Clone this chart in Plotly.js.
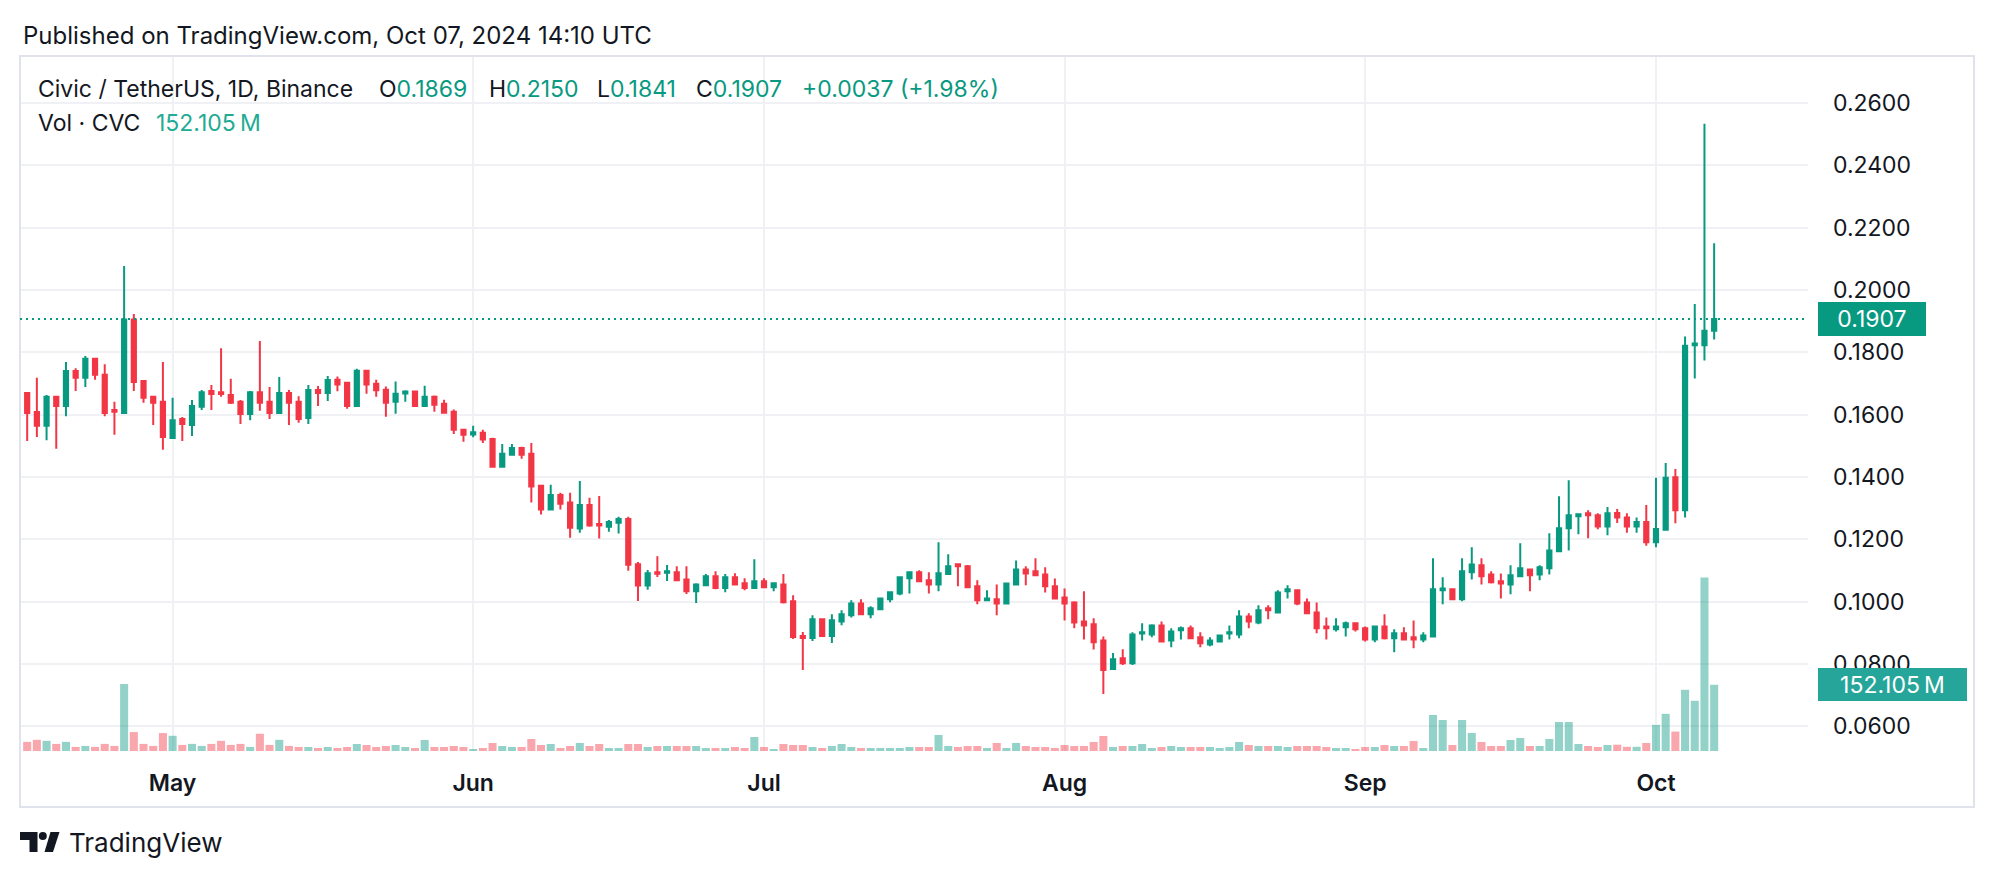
<!DOCTYPE html>
<html>
<head>
<meta charset="utf-8">
<script src="https://cdn.plot.ly/plotly-3.0.1.min.js"></script>
<style>
  html, body { margin: 0; padding: 0; background: #ffffff; }
  #chart { width: 1996px; height: 878px; }
</style>
</head>
<body>
<div id="chart"></div>
<script>
// CVC / USDT daily candles, 16 Apr 2024 - 7 Oct 2024
var firstDay = '2024-04-16';

var openP = [
  0.1669, 0.1608, 0.1564, 0.1657, 0.1628, 0.1740, 0.1718, 0.1779, 0.1728, 0.1615,
  0.1605, 0.1905, 0.1708, 0.1657, 0.1641, 0.1525, 0.1586, 0.1567, 0.1625, 0.1676,
  0.1672, 0.1663, 0.1641, 0.1602, 0.1672, 0.1641, 0.1605, 0.1669, 0.1641, 0.1589,
  0.1679, 0.1669, 0.1712, 0.1702, 0.1628, 0.1741, 0.1699, 0.1680, 0.1641, 0.1668,
  0.1674, 0.1628, 0.1657, 0.1635, 0.1609, 0.1551, 0.1536, 0.1542, 0.1522, 0.1433,
  0.1471, 0.1493, 0.1474, 0.1372, 0.1295, 0.1342, 0.1318, 0.1234, 0.1310, 0.1249,
  0.1240, 0.1253, 0.1265, 0.1120, 0.1051, 0.1094, 0.1092, 0.1094, 0.1071, 0.1033,
  0.1052, 0.1081, 0.1043, 0.1078, 0.1059, 0.1043, 0.1065, 0.1046, 0.1055, 0.1001,
  0.0889, 0.0883, 0.0943, 0.0889, 0.0936, 0.0956, 0.0994, 0.0959, 0.0975, 0.1007,
  0.1026, 0.1075, 0.1094, 0.1068, 0.1055, 0.1088, 0.1120, 0.1113, 0.1049, 0.1004,
  0.1007, 0.0994, 0.1055, 0.1103, 0.1097, 0.1087, 0.1049, 0.1013, 0.0997, 0.0936,
  0.0927, 0.0875, 0.0783, 0.0818, 0.0802, 0.0897, 0.0894, 0.0923, 0.0875, 0.0908,
  0.0914, 0.0885, 0.0862, 0.0872, 0.0897, 0.0894, 0.0952, 0.0933, 0.0978, 0.0965,
  0.1033, 0.1036, 0.0997, 0.0965, 0.0920, 0.0911, 0.0917, 0.0930, 0.0914, 0.0878,
  0.0920, 0.0882, 0.0898, 0.0885, 0.0878, 0.0888, 0.1036, 0.1039, 0.1007, 0.1094,
  0.1116, 0.1087, 0.1065, 0.1055, 0.1081, 0.1103, 0.1087, 0.1107, 0.1161, 0.1235,
  0.1274, 0.1283, 0.1277, 0.1241, 0.1284, 0.1270, 0.1241, 0.1255, 0.1190, 0.1230,
  0.1399, 0.1293, 0.1823, 0.1823, 0.1869
];
var highP = [
  0.1669, 0.1718, 0.1663, 0.1657, 0.1769, 0.1749, 0.1788, 0.1779, 0.1762, 0.1641,
  0.2077, 0.1923, 0.1708, 0.1657, 0.1769, 0.1654, 0.1592, 0.1647, 0.1679, 0.1695,
  0.1813, 0.1715, 0.1647, 0.1676, 0.1836, 0.1689, 0.1721, 0.1679, 0.1659, 0.1695,
  0.1692, 0.1724, 0.1722, 0.1702, 0.1747, 0.1741, 0.1712, 0.1690, 0.1706, 0.1678,
  0.1674, 0.1693, 0.1661, 0.1648, 0.1616, 0.1551, 0.1564, 0.1551, 0.1526, 0.1506,
  0.1506, 0.1497, 0.1509, 0.1375, 0.1375, 0.1349, 0.1349, 0.1387, 0.1333, 0.1339,
  0.1262, 0.1272, 0.1272, 0.1127, 0.1101, 0.1145, 0.1117, 0.1113, 0.1113, 0.1059,
  0.1088, 0.1097, 0.1088, 0.1091, 0.1075, 0.1136, 0.1075, 0.1059, 0.1088, 0.1020,
  0.0902, 0.0956, 0.0946, 0.0959, 0.0972, 0.1004, 0.1007, 0.0985, 0.1010, 0.1030,
  0.1081, 0.1097, 0.1100, 0.1094, 0.1190, 0.1152, 0.1120, 0.1117, 0.1068, 0.1036,
  0.1055, 0.1058, 0.1132, 0.1113, 0.1139, 0.1110, 0.1074, 0.1042, 0.1001, 0.1033,
  0.0946, 0.0888, 0.0835, 0.0847, 0.0901, 0.0930, 0.0927, 0.0936, 0.0914, 0.0920,
  0.0923, 0.0901, 0.0885, 0.0894, 0.0923, 0.0972, 0.0962, 0.0988, 0.0988, 0.1036,
  0.1052, 0.1039, 0.1010, 0.0997, 0.0949, 0.0946, 0.0936, 0.0933, 0.0920, 0.0923,
  0.0959, 0.0911, 0.0917, 0.0939, 0.0901, 0.1139, 0.1078, 0.1039, 0.1139, 0.1174,
  0.1139, 0.1097, 0.1090, 0.1116, 0.1187, 0.1103, 0.1116, 0.1219, 0.1338, 0.1389,
  0.1283, 0.1293, 0.1283, 0.1303, 0.1297, 0.1283, 0.1270, 0.1310, 0.1397, 0.1445,
  0.1425, 0.1851, 0.1955, 0.2534, 0.2150
];
var lowP = [
  0.1515, 0.1528, 0.1518, 0.1490, 0.1595, 0.1676, 0.1689, 0.1712, 0.1595, 0.1535,
  0.1603, 0.1676, 0.1638, 0.1567, 0.1487, 0.1522, 0.1515, 0.1531, 0.1615, 0.1615,
  0.1657, 0.1634, 0.1570, 0.1582, 0.1612, 0.1586, 0.1602, 0.1567, 0.1574, 0.1570,
  0.1628, 0.1644, 0.1675, 0.1619, 0.1625, 0.1667, 0.1657, 0.1593, 0.1603, 0.1641,
  0.1625, 0.1628, 0.1609, 0.1606, 0.1538, 0.1513, 0.1527, 0.1509, 0.1430, 0.1433,
  0.1468, 0.1458, 0.1318, 0.1279, 0.1295, 0.1295, 0.1205, 0.1221, 0.1240, 0.1202,
  0.1224, 0.1218, 0.1099, 0.1002, 0.1038, 0.1079, 0.1066, 0.1065, 0.1024, 0.0995,
  0.1049, 0.1039, 0.1030, 0.1055, 0.1036, 0.1043, 0.1043, 0.1033, 0.0994, 0.0880,
  0.0780, 0.0873, 0.0886, 0.0867, 0.0924, 0.0949, 0.0956, 0.0946, 0.0975, 0.0998,
  0.1020, 0.1026, 0.1065, 0.1026, 0.1033, 0.1088, 0.1049, 0.1043, 0.0991, 0.1001,
  0.0956, 0.0994, 0.1052, 0.1052, 0.1081, 0.1029, 0.1007, 0.0939, 0.0914, 0.0878,
  0.0846, 0.0703, 0.0780, 0.0796, 0.0796, 0.0875, 0.0885, 0.0872, 0.0853, 0.0878,
  0.0882, 0.0853, 0.0856, 0.0872, 0.0878, 0.0882, 0.0914, 0.0927, 0.0943, 0.0965,
  0.1010, 0.0988, 0.0962, 0.0898, 0.0878, 0.0904, 0.0888, 0.0904, 0.0872, 0.0869,
  0.0878, 0.0837, 0.0875, 0.0850, 0.0869, 0.0888, 0.0991, 0.1004, 0.1001, 0.1071,
  0.1055, 0.1058, 0.1010, 0.1023, 0.1081, 0.1033, 0.1068, 0.1087, 0.1161, 0.1164,
  0.1216, 0.1203, 0.1232, 0.1213, 0.1252, 0.1221, 0.1221, 0.1179, 0.1174, 0.1230,
  0.1251, 0.1270, 0.1716, 0.1774, 0.1841
];
var closeP = [
  0.1605, 0.1564, 0.1657, 0.1628, 0.1740, 0.1718, 0.1779, 0.1728, 0.1605, 0.1609,
  0.1905, 0.1705, 0.1654, 0.1638, 0.1528, 0.1582, 0.1570, 0.1628, 0.1672, 0.1666,
  0.1666, 0.1638, 0.1602, 0.1672, 0.1638, 0.1605, 0.1669, 0.1638, 0.1586, 0.1679,
  0.1669, 0.1711, 0.1697, 0.1628, 0.1741, 0.1697, 0.1678, 0.1638, 0.1667, 0.1674,
  0.1628, 0.1657, 0.1632, 0.1606, 0.1551, 0.1535, 0.1543, 0.1520, 0.1433, 0.1474,
  0.1493, 0.1471, 0.1369, 0.1295, 0.1342, 0.1314, 0.1237, 0.1310, 0.1244, 0.1244,
  0.1255, 0.1265, 0.1118, 0.1051, 0.1091, 0.1089, 0.1097, 0.1068, 0.1033, 0.1055,
  0.1081, 0.1043, 0.1078, 0.1055, 0.1043, 0.1065, 0.1046, 0.1059, 0.0998, 0.0886,
  0.0883, 0.0943, 0.0889, 0.0940, 0.0959, 0.0994, 0.0959, 0.0978, 0.1010, 0.1030,
  0.1078, 0.1094, 0.1065, 0.1055, 0.1091, 0.1113, 0.1113, 0.1046, 0.1004, 0.1010,
  0.0994, 0.1058, 0.1103, 0.1090, 0.1084, 0.1049, 0.1010, 0.0994, 0.0933, 0.0923,
  0.0869, 0.0780, 0.0815, 0.0802, 0.0894, 0.0901, 0.0923, 0.0872, 0.0904, 0.0914,
  0.0882, 0.0866, 0.0875, 0.0891, 0.0901, 0.0952, 0.0936, 0.0972, 0.0972, 0.1029,
  0.1039, 0.0994, 0.0962, 0.0914, 0.0914, 0.0920, 0.0930, 0.0911, 0.0878, 0.0920,
  0.0882, 0.0898, 0.0878, 0.0878, 0.0891, 0.1039, 0.1042, 0.1007, 0.1097, 0.1119,
  0.1081, 0.1062, 0.1058, 0.1084, 0.1107, 0.1084, 0.1110, 0.1164, 0.1235, 0.1277,
  0.1280, 0.1277, 0.1241, 0.1283, 0.1270, 0.1241, 0.1255, 0.1190, 0.1233, 0.1397,
  0.1293, 0.1821, 0.1828, 0.1869, 0.1907
];
// volume in millions of CVC
var volumeM = [
  21.0, 25.6, 23.3, 16.3, 21.0, 9.3, 11.7, 9.3, 16.3, 11.7,
  153.8, 43.5, 16.3, 11.7, 41.2, 35.0, 14.0, 16.3, 11.7, 16.3,
  23.3, 14.0, 16.3, 9.3, 39.6, 14.0, 25.6, 11.7, 9.3, 9.3,
  7.0, 9.3, 6.9, 9.2, 16.1, 13.8, 9.2, 11.5, 13.8, 9.2,
  6.9, 25.3, 9.2, 9.2, 11.5, 9.2, 4.6, 6.9, 18.4, 11.5,
  9.2, 9.2, 27.6, 13.8, 16.1, 6.9, 11.5, 18.4, 11.5, 16.1,
  6.9, 6.9, 16.1, 16.1, 9.2, 11.5, 11.5, 11.5, 11.5, 11.5,
  6.9, 6.9, 6.9, 9.2, 6.9, 32.2, 9.2, 4.6, 16.1, 13.8,
  13.8, 9.2, 6.9, 11.5, 16.1, 9.2, 6.9, 6.9, 6.9, 6.9,
  6.9, 9.2, 9.2, 9.2, 36.8, 11.5, 9.2, 11.5, 11.5, 6.9,
  18.4, 6.9, 18.4, 11.5, 9.2, 9.2, 6.9, 13.8, 11.5, 11.5,
  20.7, 34.5, 9.2, 11.5, 11.5, 16.1, 6.9, 9.2, 11.5, 9.2,
  9.2, 9.2, 9.2, 6.9, 9.2, 20.7, 13.8, 11.5, 11.5, 11.5,
  9.2, 11.5, 11.5, 11.5, 9.2, 6.9, 6.9, 4.6, 9.2, 9.2,
  13.8, 11.5, 11.5, 23.0, 6.9, 82.7, 71.2, 13.8, 71.2, 41.4,
  20.7, 11.5, 11.5, 25.3, 29.9, 11.5, 11.5, 27.6, 66.6, 66.6,
  16.1, 11.5, 9.2, 13.8, 14.5, 9.7, 9.7, 18.4, 60.1, 85.3,
  44.6, 140.5, 115.3, 398.3, 152.105
];

var monthTicks = ['2024-05-01', '2024-06-01', '2024-07-01', '2024-08-01', '2024-09-01', '2024-10-01'];
var monthLabels = ['May', 'Jun', 'Jul', 'Aug', 'Sep', 'Oct'];
var priceTicks = [0.06, 0.08, 0.10, 0.12, 0.14, 0.16, 0.18, 0.20, 0.22, 0.24, 0.26];

var lastPrice = closeP[closeP.length - 1];
var lastVol = volumeM[volumeM.length - 1];

var upColor = '#089981';
var downColor = '#F23645';

// one date per candle
var days = [];
var d0 = new Date(firstDay + 'T00:00:00Z').getTime();
for (var i = 0; i < closeP.length; i++) {
  days.push(new Date(d0 + i * 86400000).toISOString().slice(0, 10));
}

var volColors = closeP.map(function (c, i) {
  return c >= openP[i] ? 'rgba(8,153,129,0.44)' : 'rgba(242,54,69,0.44)';
});

var volTrace = {
  type: 'bar',
  x: days,
  y: volumeM,
  yaxis: 'y2',
  marker: { color: volColors, line: { width: 0 } },
  hoverinfo: 'skip'
};

var candleTrace = {
  type: 'candlestick',
  x: days,
  open: openP,
  high: highP,
  low: lowP,
  close: closeP,
  whiskerwidth: 0,
  increasing: { line: { color: upColor, width: 2 }, fillcolor: upColor },
  decreasing: { line: { color: downColor, width: 2 }, fillcolor: downColor },
  hoverinfo: 'skip'
};

// page pixels -> paper coords (plot area spans x 20..1808, y 56..751)
function px(x) { return (x - 20) / 1788; }
function py(y) { return (751 - y) / 695; }

var ink = '#131722';
var legendFont = { family: 'Inter, sans-serif', size: 23, color: ink };

function label(x, y, text, font) {
  return {
    xref: 'paper', yref: 'paper', x: px(x), y: py(y),
    xanchor: 'left', yanchor: 'middle', showarrow: false,
    text: text, font: font || legendFont
  };
}

function green(s) { return '<span style="color:' + upColor + '">' + s + '</span>'; }

var annotations = [
  label(21, 35, 'Published on TradingView.com, Oct 07, 2024 14:10 UTC', { family: 'Inter, sans-serif', size: 24, color: ink }),
  label(36, 89, 'Civic / TetherUS, 1D, Binance'),
  label(377, 89, 'O' + green(openP[openP.length - 1].toFixed(4))),
  label(487, 89, 'H' + green(highP[highP.length - 1].toFixed(4))),
  label(595, 89, 'L' + green(lowP[lowP.length - 1].toFixed(4))),
  label(694, 89, 'C' + green(lastPrice.toFixed(4))),
  label(800, 89, green('+0.0037 (+1.98%)')),
  label(36, 123, 'Vol · CVC'),
  label(154, 123, '<span style="color:#22ab94">' + lastVol.toFixed(3) + '\u202fM</span>'),
  label(67, 842, 'TradingView', { family: 'Inter, sans-serif', size: 26, color: ink }),
  {
    xref: 'paper', yref: 'y', x: px(1818), y: lastPrice,
    xanchor: 'left', yanchor: 'middle', showarrow: false,
    text: lastPrice.toFixed(4),
    font: { family: 'Inter, sans-serif', size: 23, color: '#ffffff' },
    bgcolor: upColor, bordercolor: upColor, borderwidth: 1, borderpad: 2,
    width: 102, height: 28, align: 'center'
  },
  {
    xref: 'paper', yref: 'y2', x: px(1818), y: lastVol,
    xanchor: 'left', yanchor: 'middle', showarrow: false,
    text: lastVol.toFixed(3) + '\u202fM',
    font: { family: 'Inter, sans-serif', size: 23, color: '#ffffff' },
    bgcolor: '#26a69a', bordercolor: '#26a69a', borderwidth: 1, borderpad: 2,
    width: 143, height: 27, align: 'center'
  }
];

var shapes = [
  // outer frame of the chart
  {
    type: 'rect', xref: 'paper', yref: 'paper',
    x0: px(20), x1: px(1974), y0: py(807), y1: py(56),
    line: { color: '#e0e3eb', width: 2 }, fillcolor: 'rgba(0,0,0,0)'
  },
  // last price line
  {
    type: 'line', xref: 'paper', yref: 'y',
    x0: 0, x1: 1, y0: lastPrice, y1: lastPrice,
    line: { color: upColor, width: 2, dash: '2px,4px' }
  },
  // TradingView logo
  {
    type: 'path', xref: 'paper', yref: 'paper',
    path: 'M' + px(20) + ',' + py(832) + ' L' + px(37.5) + ',' + py(832) + ' L' + px(37.5) + ',' + py(852) +
          ' L' + px(29.5) + ',' + py(852) + ' L' + px(29.5) + ',' + py(840) + ' L' + px(20) + ',' + py(840) + ' Z',
    fillcolor: ink, line: { width: 0 }
  },
  {
    type: 'circle', xref: 'paper', yref: 'paper',
    x0: px(38.8), x1: px(46.8), y0: py(840), y1: py(832),
    fillcolor: ink, line: { width: 0 }
  },
  {
    type: 'path', xref: 'paper', yref: 'paper',
    path: 'M' + px(50.5) + ',' + py(832) + ' L' + px(59.5) + ',' + py(832) + ' L' + px(53) + ',' + py(852) +
          ' L' + px(44.5) + ',' + py(852) + ' Z',
    fillcolor: ink, line: { width: 0 }
  }
];

var gridColor = '#f0f1f4';

var layout = {
  width: 1996,
  height: 878,
  margin: { l: 20, r: 188, t: 56, b: 127 },
  paper_bgcolor: '#ffffff',
  plot_bgcolor: '#ffffff',
  showlegend: false,
  font: { family: 'Inter, sans-serif', color: ink },
  boxgap: 0.38,
  bargap: 0.17,
  xaxis: {
    type: 'date',
    range: ['2024-04-15 06:14', '2024-10-16 16:19'],
    tickvals: monthTicks,
    ticktext: monthLabels,
    showgrid: true,
    gridcolor: gridColor,
    gridwidth: 2,
    zeroline: false,
    showline: false,
    ticks: '',
    ticklabelstandoff: 16,
    tickfont: { family: 'Inter, sans-serif', size: 23, weight: 600, color: ink },
    rangeslider: { visible: false },
    fixedrange: true
  },
  yaxis: {
    side: 'right',
    range: [0.05201, 0.27512],
    tickvals: priceTicks,
    tickformat: '.4f',
    showgrid: true,
    gridcolor: gridColor,
    gridwidth: 2,
    zeroline: false,
    showline: false,
    ticks: '',
    ticklabelstandoff: 24,
    tickfont: { family: 'Inter, sans-serif', size: 23, color: ink },
    fixedrange: true
  },
  yaxis2: {
    overlaying: 'y',
    range: [0, 1596],
    visible: false,
    fixedrange: true
  },
  shapes: shapes,
  annotations: annotations
};

Plotly.newPlot('chart', [volTrace, candleTrace], layout, { staticPlot: true, displayModeBar: false });
</script>
</body>
</html>
